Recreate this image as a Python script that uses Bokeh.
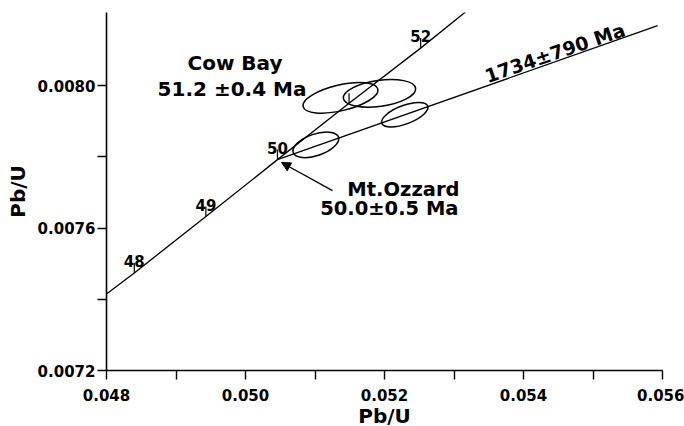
import math
from bokeh.plotting import figure
from bokeh.models import (ColumnDataSource, FixedTicker, PrintfTickFormatter, Range1d,
                          Arrow, NormalHead)
from bokeh.core.properties import value
from bokeh.embed import file_html
from bokeh.resources import INLINE

# ---- data ----
# Concordia curve (207Pb/235U vs 206Pb/238U), ages in Ma
conc_age = [47.6, 48, 49, 50, 51, 52, 52.7]
conc_x = [0.04800, 0.04840, 0.04943, 0.05046, 0.05149, 0.05252, 0.05320]
conc_y = [0.007415, 0.007474, 0.007632, 0.007792, 0.007950, 0.008105, 0.008212]

# Age ticks on the concordia
tick_age = [48, 49, 50, 51, 52]
tick_label = ["48", "49", "50", "", "52"]

# Discordia (1734 +/- 790 Ma)
disc_x = [0.05046, 0.05593]
disc_y = [0.007792, 0.008168]

# Error ellipses: Mt.Ozzard (2), Cow Bay (2)
ell_x = [0.051012, 0.052292, 0.051367, 0.051928]
ell_y = [0.0078335, 0.0079180, 0.0079655, 0.0079781]
ell_w = [0.000690, 0.000705, 0.001105, 0.001050]
ell_h = [0.0000605, 0.0000520, 0.0000724, 0.0000730]
ell_angle = [0.33, 0.36, 0.23, 0.14]

# Axis ticks
x_major = [0.048, 0.050, 0.052, 0.054, 0.056]
x_minor = [0.049, 0.051, 0.053, 0.055]
y_major = [0.0072, 0.0076, 0.0080]
y_minor = [0.0074, 0.0078]

# Annotation texts
cow_text = ["Cow Bay", "51.2 \u00b10.4 Ma"]
ozz_text = ["Mt.Ozzard", "50.0\u00b10.5 Ma"]
disc_text = "1734\u00b1790 Ma"

# ---- annotation placement ----
cow_pos_x = [0.049849, 0.049806]
cow_pos_y = [0.0080646, 0.0079916]
ozz_pos_x = [0.053079, 0.053065]
ozz_pos_y = [0.0077081, 0.0076547]
disc_pos = (0.053453, 0.0080253)
arrow_from = (0.051252, 0.007705)
arrow_to = (0.050518, 0.007784)

FONT = "DejaVu Sans"

p = figure(frame_width=556, frame_height=358, output_backend="svg", toolbar_location=None,
           x_range=Range1d(0.048, 0.056), y_range=Range1d(0.0072, 0.008205),
           min_border_left=106, min_border_right=22, min_border_top=12, min_border_bottom=50)
p.outline_line_color = None
p.grid.visible = False
p.background_fill_color = "white"
p.border_fill_color = "white"

for ax in (p.xaxis[0], p.yaxis[0]):
    ax.axis_line_width = 1.6
    ax.axis_line_color = "black"
    ax.major_tick_line_color = "black"
    ax.minor_tick_line_color = "black"
    ax.major_tick_line_width = 1.4
    ax.minor_tick_line_width = 1.4
    ax.major_tick_in = 0
    ax.minor_tick_in = 0
    ax.major_tick_out = 9
    ax.minor_tick_out = 9
    ax.major_label_text_font = FONT
    ax.major_label_text_font_style = "bold"
    ax.major_label_text_font_size = "15px"
    ax.major_label_text_color = "black"
    ax.axis_label_text_font = FONT
    ax.axis_label_text_font_style = "bold"
    ax.axis_label_text_font_size = "20px"
    ax.axis_label_text_color = "black"

p.xaxis.ticker = FixedTicker(ticks=x_major, minor_ticks=x_minor)
p.yaxis.ticker = FixedTicker(ticks=y_major, minor_ticks=y_minor)
p.xaxis.formatter = PrintfTickFormatter(format="%.3f")
p.yaxis.formatter = PrintfTickFormatter(format="%.4f")
p.xaxis.axis_label = "Pb/U"
p.yaxis.axis_label = "Pb/U"
p.xaxis.major_label_standoff = 9
p.xaxis.axis_label_standoff = 0
p.yaxis.major_label_standoff = 2
p.yaxis.axis_label_standoff = 5

# concordia
p.line(conc_x, conc_y, line_color="black", line_width=1.3)

# age ticks
idx = [conc_age.index(a) for a in tick_age]
tsrc = ColumnDataSource(dict(x=[conc_x[i] for i in idx], y=[conc_y[i] for i in idx], t=tick_label))
p.ray(x="x", y="y", length=10, length_units="screen", angle=math.pi / 2, source=tsrc,
      line_color="black", line_width=1.2)
p.text(x="x", y="y", text="t", source=tsrc, text_align="center", text_baseline="alphabetic",
       y_offset=-12, text_font=value(FONT), text_font_style="bold", text_font_size="15px",
       text_color="black")

# discordia
p.line(disc_x, disc_y, line_color="black", line_width=1.3)

# ellipses
p.ellipse(x=ell_x, y=ell_y, width=ell_w, height=ell_h, angle=ell_angle,
          fill_color=None, line_color="black", line_width=1.5)

# texts
p.text(x=cow_pos_x, y=cow_pos_y, text=cow_text, text_align="center", text_baseline="alphabetic",
       text_font=value(FONT), text_font_style="bold", text_font_size="20px", text_color="black")
p.text(x=ozz_pos_x, y=ozz_pos_y, text=ozz_text, text_align="right", text_baseline="alphabetic",
       text_font=value(FONT), text_font_style="bold", text_font_size="19.5px", text_color="black")
p.text(x=[disc_pos[0]], y=[disc_pos[1]], text=[disc_text], angle=0.33, text_align="left",
       text_baseline="alphabetic", text_font=value(FONT), text_font_style="bold",
       text_font_size="19px", text_color="black")

p.add_layout(Arrow(end=NormalHead(size=9, fill_color="black", line_color="black"),
                   x_start=arrow_from[0], y_start=arrow_from[1],
                   x_end=arrow_to[0], y_end=arrow_to[1],
                   line_color="black", line_width=1.3))

open("out.html", "w").write(file_html(p, INLINE))
